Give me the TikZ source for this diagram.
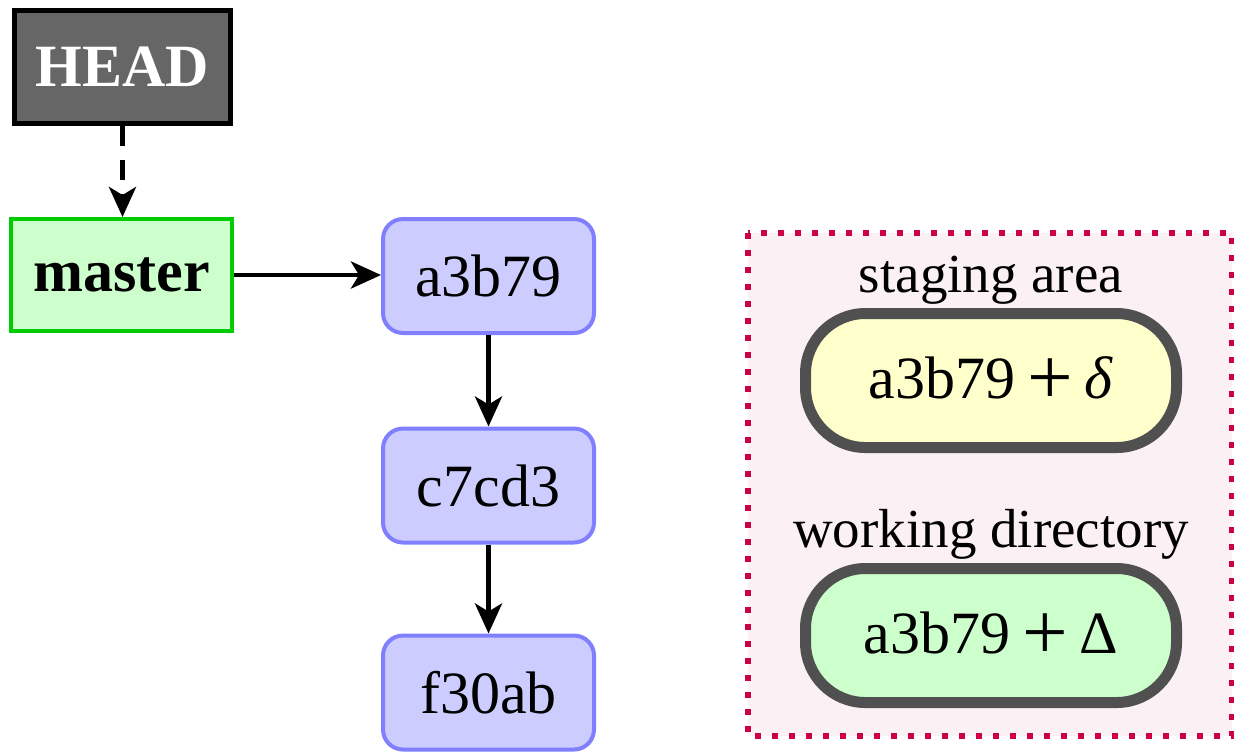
\documentclass[tikz,border=0pt]{standalone}
\usepackage{fontspec}
\setmainfont{Liberation Serif}
\usetikzlibrary{arrows.meta}
\definecolor{headfill}{HTML}{666666}
\definecolor{mastfill}{HTML}{CCFFCC}
\definecolor{mastline}{HTML}{00CC00}
\definecolor{comfill}{HTML}{CCCCFF}
\definecolor{comline}{HTML}{8080FF}
\definecolor{stagefill}{HTML}{FFFFCC}
\definecolor{pillline}{HTML}{505050}
\definecolor{areafill}{HTML}{FBF0F4}
\definecolor{arealine}{HTML}{CC0044}
\newcommand{\plusgap}{\hspace{0.2em}\raisebox{-0.1em}{\scalebox{1.35}{+}}\hspace{0.2em}}
\tikzset{
  big/.style={font=\fontsize{30pt}{36pt}\selectfont},
  headbox/.style={draw=black, line width=2.5pt, fill=headfill, text=white, font=\fontsize{30pt}{36pt}\selectfont\bfseries, minimum width=108pt, minimum height=56.5pt, inner sep=0pt},
  branchbox/.style={draw=mastline, line width=2pt, fill=mastfill, font=\fontsize{30pt}{36pt}\selectfont\bfseries, minimum width=110.5pt, minimum height=56pt, inner sep=0pt},
  commitbox/.style={big, draw=comline, line width=2pt, fill=comfill, rounded corners=10pt, minimum width=105.5pt, minimum height=57pt, inner sep=0pt},
  pill/.style={big, draw=pillline, line width=5.5pt, rounded corners=30pt, minimum width=185.5pt, minimum height=67pt, inner sep=0pt},
  lbl/.style={font=\fontsize{27.5pt}{33pt}\selectfont, inner sep=0pt, anchor=base},
  conn/.style={line width=2.4pt, -{Stealth[length=15pt,width=13.5pt,inset=4pt]}},
  areabox/.style={draw=arealine, fill=areafill, line width=3pt, dash pattern=on 3pt off 5.5pt}
}
\begin{document}
\begin{tikzpicture}[x=0.5pt,y=-0.5pt]
\useasboundingbox (0,0) rectangle (1234,752);
\draw[areabox] (748,233) rectangle (1232,736);
\node[headbox] (head) at (122.5,67) {HEAD};
\node[branchbox] (master) at (121.5,275) {master};
\node[commitbox] (c1) at (488.5,276) {a3b79};
\node[commitbox] (c2) at (488.5,485.5) {c7cd3};
\node[commitbox] (c3) at (488.5,692.5) {f30ab};
\node[lbl] (stlab) at (991,292) {staging area};
\node[pill, fill=stagefill] (stage) at (991,380.5) {a3b79\plusgap\textit{δ}};
\node[lbl] (wdlab) at (991,547) {working directory};
\node[pill, fill=mastfill] (work) at (991,635.5) {a3b79\plusgap Δ};
\draw[conn, dash pattern=on 10pt off 7pt] (head.south) -- (head.south |- master.north);
\draw[conn] (master.east) -- (master.east -| c1.west);
\draw[conn] (c1) -- (c2);
\draw[conn] (c2) -- (c3);
\end{tikzpicture}
\end{document}
